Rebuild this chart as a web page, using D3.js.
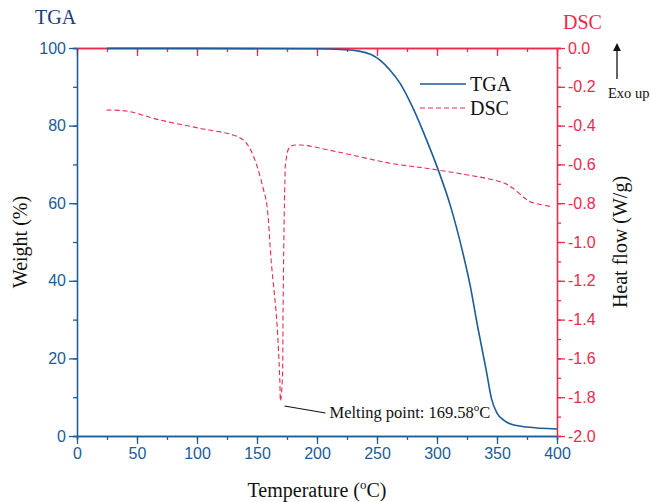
<!DOCTYPE html>
<html>
<head>
<meta charset="utf-8">
<script src="https://cdn.jsdelivr.net/npm/d3@7"></script>
<style>
  body { margin: 0; background: #fff; }
  svg { display: block; }
</style>
</head>
<body>
<svg id="chart" width="651" height="502"></svg>
<script>
// TGA: temperature (°C) vs weight (%)
const tgaTemp   = [25, 100, 200, 220, 235, 245, 252.5, 260, 269, 280, 291.7, 301, 311, 321.7, 327.5, 334, 341, 345.5, 350, 355, 362, 375, 400];
const tgaWeight = [99.9, 99.9, 99.8, 99.6, 99.2, 98.3, 96.9, 94.6, 91, 84.5, 76, 68.6, 59.5, 47, 39, 28, 17, 9.5, 5.9, 4.2, 3.0, 2.3, 1.8];

// DSC: temperature (°C) vs heat flow (W/g)
const dscTemp = [24.7, 41.4, 69, 102.5, 130, 138.6, 144, 149.7, 155, 158, 162, 166.4, 169, 169.6,
                 171.1, 171.7, 172.5, 173.3, 174, 177.5, 186, 216, 261, 301, 355, 363, 373, 377.5, 395.5];
const dscFlow = [-0.32, -0.325, -0.371, -0.414, -0.448, -0.474, -0.517, -0.603, -0.72, -0.80, -1.11, -1.40, -1.71, -1.82,
                 -1.71, -1.37, -0.94, -0.68, -0.586, -0.509, -0.50, -0.534, -0.594, -0.629, -0.694, -0.722, -0.773, -0.792, -0.818];

const xTicks    = d3.range(0, 401, 50);
const xMinor    = d3.range(0, 401, 25);
const leftTicks = d3.range(0, 101, 20);
const leftMinor = d3.range(0, 101, 10);
const rightTicks = d3.range(0, 11).map(i => -2 + i * 0.2);
const rightMinor = d3.range(0, 21).map(i => -2 + i * 0.1);

const meltPoint = { temp: 169.58, flow: -1.82, label: "Melting point: 169.58" };

const blue = "#1b5c99", red = "#ee2a4c", navy = "#1d3a78";
const pLeft = 77, pRight = 557, pTop = 48, pBottom = 436;
const serif = "Liberation Serif, Times New Roman, serif";

const svg = d3.select("#chart");

const x = d3.scaleLinear().domain([0, 400]).range([pLeft, pRight]);
const yL = d3.scaleLinear().domain([0, 100]).range([pBottom, pTop]);
const yR = d3.scaleLinear().domain([-2, 0]).range([pBottom, pTop]);

function styleAxis(g, color, size) {
    g.selectAll("path, line").attr("stroke", color).attr("stroke-width", 1.3);
    g.selectAll("text").attr("fill", color)
        .attr("font-family", "Liberation Sans, Arial, sans-serif")
        .attr("font-size", size);
}

/* minor ticks */
svg.append("g").attr("transform", `translate(0,${pBottom})`)
    .call(d3.axisBottom(x).tickValues(xMinor).tickSize(4).tickFormat(""))
    .call(g => styleAxis(g, blue, 16));
svg.append("g").attr("transform", `translate(0,${pTop})`)
    .call(d3.axisBottom(x).tickValues(xMinor).tickSize(4).tickFormat("").tickSizeOuter(0))
    .call(g => styleAxis(g, red, 16));
svg.append("g").attr("transform", `translate(${pLeft},0)`)
    .call(d3.axisLeft(yL).tickValues(leftMinor).tickSize(4).tickFormat(""))
    .call(g => styleAxis(g, blue, 16));
svg.append("g").attr("transform", `translate(${pRight},0)`)
    .call(d3.axisRight(yR).tickValues(rightMinor).tickSize(4).tickFormat(""))
    .call(g => styleAxis(g, red, 16));

/* major ticks */
svg.append("g").attr("transform", `translate(0,${pTop})`)
    .call(d3.axisBottom(x).tickValues(xTicks).tickSize(8).tickFormat("").tickSizeOuter(0))
    .call(g => styleAxis(g, red, 16));
svg.append("g").attr("transform", `translate(0,${pBottom})`)
    .call(d3.axisBottom(x).tickValues(xTicks).tickSize(8).tickPadding(4).tickSizeOuter(0))
    .call(g => styleAxis(g, blue, 16));
svg.append("g").attr("transform", `translate(${pLeft},0)`)
    .call(d3.axisLeft(yL).tickValues(leftTicks).tickSize(8).tickPadding(3).tickSizeOuter(0))
    .call(g => styleAxis(g, blue, 16));
svg.append("g").attr("transform", `translate(${pRight},0)`)
    .call(d3.axisRight(yR).tickValues(rightTicks).tickSize(8).tickPadding(3).tickSizeOuter(0)
        .tickFormat(d => Math.abs(d) < 1e-9 ? "0.0" : d3.format(".1f")(d).replace("−", "-")))
    .call(g => styleAxis(g, red, 16));

/* curves */
const tgaLine = d3.line().x((d, i) => x(tgaTemp[i])).y(d => yL(d)).curve(d3.curveMonotoneX);
svg.append("path").datum(tgaWeight)
    .attr("d", tgaLine)
    .attr("fill", "none").attr("stroke", blue).attr("stroke-width", 1.6);

const dscLine = d3.line().x((d, i) => x(dscTemp[i])).y(d => yR(d)).curve(d3.curveCatmullRom);
svg.append("path").datum(dscFlow)
    .attr("d", dscLine)
    .attr("fill", "none").attr("stroke", red).attr("stroke-width", 1.1)
    .attr("stroke-dasharray", "5 3");

/* annotation */
const ax = x(meltPoint.temp), ay = yR(meltPoint.flow);
svg.append("line")
    .attr("x1", ax + 4).attr("y1", ay + 5)
    .attr("x2", ax + 45).attr("y2", ay + 12)
    .attr("stroke", "#111").attr("stroke-width", 1.1);
const ann = svg.append("text")
    .attr("x", ax + 49).attr("y", ay + 17)
    .attr("font-family", serif)
    .attr("font-size", 16.5).attr("fill", "#111")
    .text(meltPoint.label);
ann.append("tspan").attr("font-size", 11).attr("dy", -7).text("o");
ann.append("tspan").attr("dy", 7).text("C");

/* legend */
const legend = svg.append("g").attr("transform", "translate(420,84)");
legend.append("line").attr("x1", 0).attr("x2", 46).attr("y1", 0).attr("y2", 0)
    .attr("stroke", blue).attr("stroke-width", 1.6);
legend.append("line").attr("x1", 0).attr("x2", 46).attr("y1", 24).attr("y2", 24)
    .attr("stroke", red).attr("stroke-width", 1.1).attr("stroke-dasharray", "5 3");
legend.selectAll("text.lg").data(["TGA", "DSC"]).join("text")
    .attr("x", 50).attr("y", (d, i) => 7 + i * 24)
    .attr("font-family", serif)
    .attr("font-size", 20).attr("fill", "#111")
    .text(d => d);

/* titles */
svg.append("text").attr("x", 35).attr("y", 24)
    .attr("font-family", serif).attr("font-size", 20).attr("fill", navy).text("TGA");
svg.append("text").attr("x", 563).attr("y", 29)
    .attr("font-family", serif).attr("font-size", 20).attr("fill", red).text("DSC");

svg.append("text")
    .attr("transform", "translate(27,242) rotate(-90)")
    .attr("text-anchor", "middle")
    .attr("font-family", serif).attr("font-size", 20).attr("fill", "#111")
    .text("Weight (%)");
svg.append("text")
    .attr("transform", "translate(627,242) rotate(-90)")
    .attr("text-anchor", "middle")
    .attr("font-family", serif).attr("font-size", 20).attr("fill", "#111")
    .text("Heat flow (W/g)");

const xt = svg.append("text")
    .attr("x", 317).attr("y", 497)
    .attr("text-anchor", "middle")
    .attr("font-family", serif).attr("font-size", 20).attr("fill", "#111")
    .text("Temperature (");
xt.append("tspan").attr("font-size", 13).attr("dy", -8).text("o");
xt.append("tspan").attr("dy", 8).text("C)");

/* exo up */
svg.append("defs").append("marker")
    .attr("id", "arr").attr("viewBox", "0 0 10 10")
    .attr("refX", 5).attr("refY", 5)
    .attr("markerWidth", 6).attr("markerHeight", 8)
    .attr("orient", "auto")
    .append("path").attr("d", "M0,0 L10,5 L0,10 Z").attr("fill", "#111");
svg.append("line")
    .attr("x1", 617).attr("y1", 79).attr("x2", 617).attr("y2", 47)
    .attr("stroke", "#111").attr("stroke-width", 1.3)
    .attr("marker-end", "url(#arr)");
svg.append("text").attr("x", 608).attr("y", 98)
    .attr("font-family", serif).attr("font-size", 14.5).attr("fill", "#111")
    .text("Exo up");
</script>
</body>
</html>
